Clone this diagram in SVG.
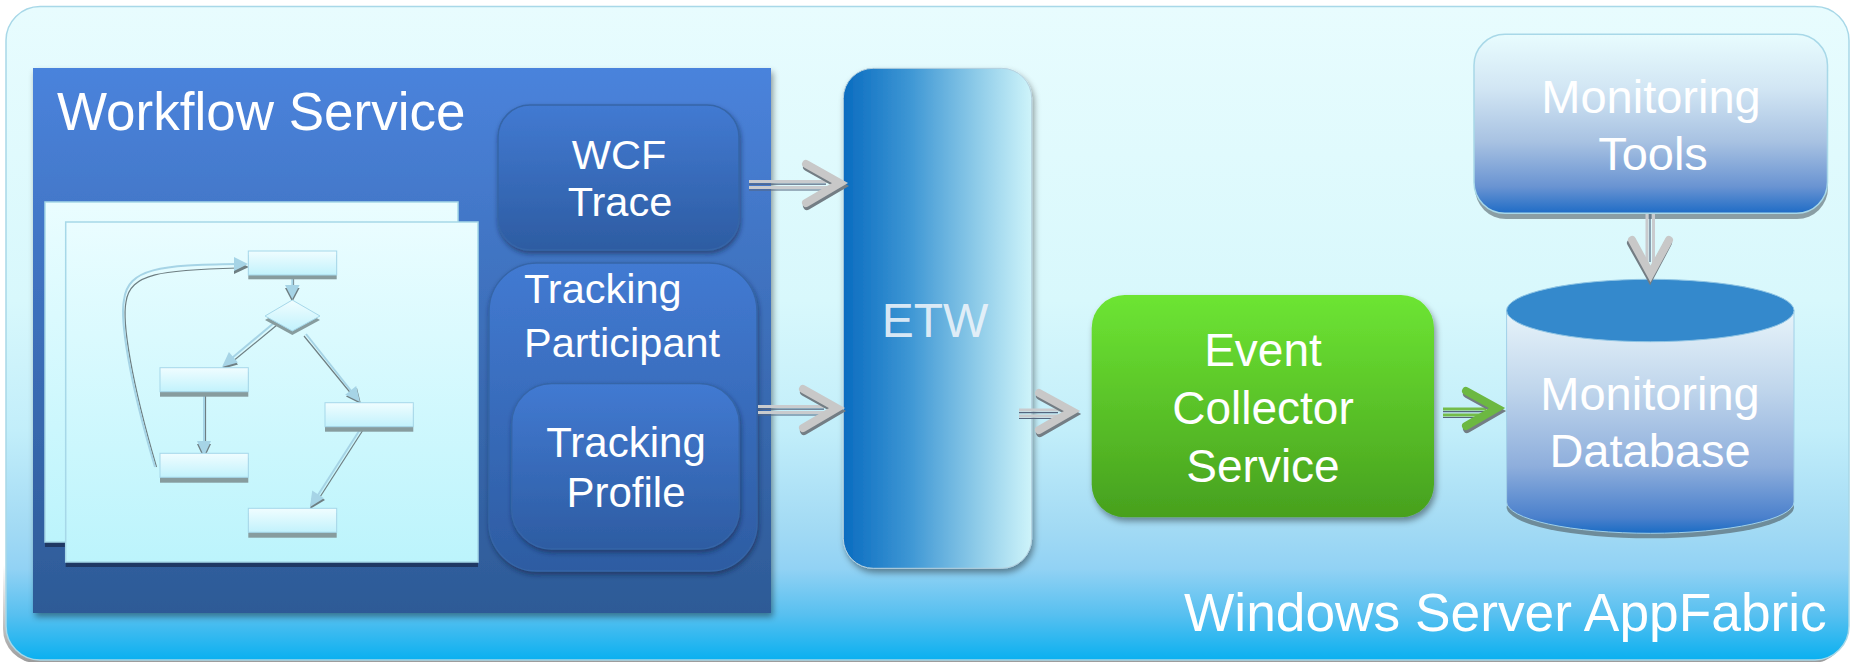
<svg xmlns="http://www.w3.org/2000/svg" width="1854" height="662" viewBox="0 0 1854 662">
<defs>
  <linearGradient id="gBg" x1="0" y1="0" x2="0" y2="1">
    <stop offset="0" stop-color="#e8fcfe"/>
    <stop offset="0.45" stop-color="#d8f8fc"/>
    <stop offset="0.65" stop-color="#c2eefa"/>
    <stop offset="0.8" stop-color="#a2daf4"/>
    <stop offset="0.86" stop-color="#92d2f4"/>
    <stop offset="0.93" stop-color="#58c0f0"/>
    <stop offset="1" stop-color="#0ab0f0"/>
  </linearGradient>
  <linearGradient id="gBgSh" x1="0" y1="0" x2="0" y2="1">
    <stop offset="0.85" stop-color="#909090" stop-opacity="0"/>
    <stop offset="1" stop-color="#909090" stop-opacity="0.9"/>
  </linearGradient>
  <linearGradient id="gWf" x1="0" y1="0" x2="0" y2="1">
    <stop offset="0" stop-color="#4a83dc"/>
    <stop offset="0.3" stop-color="#4276c6"/>
    <stop offset="1" stop-color="#2d5a96"/>
  </linearGradient>
  <linearGradient id="gNode" x1="0" y1="0" x2="0" y2="1">
    <stop offset="0" stop-color="#427ad2"/>
    <stop offset="1" stop-color="#2d5ca2"/>
  </linearGradient>
  <linearGradient id="gPaper" x1="0" y1="0" x2="0" y2="1">
    <stop offset="0" stop-color="#eafdff"/>
    <stop offset="1" stop-color="#bcf4fc"/>
  </linearGradient>
  <linearGradient id="gFbox" x1="0" y1="0" x2="0" y2="1">
    <stop offset="0" stop-color="#f0fdff"/>
    <stop offset="1" stop-color="#c2f2fc"/>
  </linearGradient>
  <linearGradient id="gEtw" x1="0" y1="0" x2="1" y2="0">
    <stop offset="0" stop-color="#0a6cc0"/>
    <stop offset="0.35" stop-color="#3d96d4"/>
    <stop offset="0.7" stop-color="#8ccae8"/>
    <stop offset="1" stop-color="#cef4fa"/>
  </linearGradient>
  <linearGradient id="gGreen" x1="0" y1="0" x2="0" y2="1">
    <stop offset="0" stop-color="#6de533"/>
    <stop offset="1" stop-color="#47a01e"/>
  </linearGradient>
  <linearGradient id="gTools" x1="0" y1="0" x2="0" y2="1">
    <stop offset="0" stop-color="#e8fcfe"/>
    <stop offset="0.3" stop-color="#d2e6f4"/>
    <stop offset="0.6" stop-color="#a8c2e2"/>
    <stop offset="0.85" stop-color="#6a94d2"/>
    <stop offset="1" stop-color="#1f6cc6"/>
  </linearGradient>
  <linearGradient id="gDb" x1="0" y1="0" x2="0" y2="1">
    <stop offset="0" stop-color="#e8f4fa"/>
    <stop offset="0.35" stop-color="#c0d6ec"/>
    <stop offset="0.7" stop-color="#8eaedc"/>
    <stop offset="0.93" stop-color="#4a80cc"/>
    <stop offset="1" stop-color="#1a6cc4"/>
  </linearGradient>
  <filter id="sh" x="-10%" y="-10%" width="125%" height="125%">
    <feDropShadow dx="2" dy="4" stdDeviation="3" flood-color="#000" flood-opacity="0.4"/>
  </filter>
  <filter id="shs" x="-10%" y="-10%" width="125%" height="125%">
    <feDropShadow dx="1" dy="3" stdDeviation="2.5" flood-color="#0a1e40" flood-opacity="0.55"/>
  </filter>
  <style>
    .t { font-family: "Liberation Sans", Arial, sans-serif; fill: #ffffff; }
    .node { fill: url(#gNode); stroke: #3565a8; stroke-width: 1.5; }
    .paper { fill: url(#gPaper); stroke: #a6d8e8; stroke-width: 1.5; }
    .fbox { fill: url(#gFbox); stroke: #a6d8ea; stroke-width: 1; }
    .fsh { fill: #879c9e; }
    .fl { fill: none; stroke: #a6d4e6; stroke-width: 2; }
    .fls { fill: none; stroke: #6e7e82; stroke-width: 1.2; }
    .fh { fill: #a6d4e6; }
    .fhs { fill: #6e7e82; }
    .ll { stroke: #c9cbce; stroke-width: 3; }
    .ld { stroke: #55657e; stroke-width: 1.2; }
    .ch { fill: none; stroke: #c8c8c8; stroke-width: 8; stroke-linejoin: miter; stroke-linecap: round; }
    .chs { fill: none; stroke: #737d84; stroke-width: 8; stroke-linejoin: miter; stroke-linecap: round; }
    .chg { fill: none; stroke: #6cb842; stroke-width: 8; stroke-linejoin: miter; stroke-linecap: round; }
    .llg { stroke: #74bc4a; stroke-width: 3; }
  </style>
</defs>

<!-- background frame -->
<g id="appfabric">
  <rect x="3" y="9.5" width="1843" height="653.5" rx="34" fill="url(#gBgSh)"/>
  <rect x="6" y="6.5" width="1843" height="653.5" rx="34" fill="url(#gBg)" stroke="#a8d8e8" stroke-width="1.5"/>
  <text class="t" x="1184" y="631" font-size="53.3">Windows Server AppFabric</text>
</g>

<!-- Workflow service -->
<g id="workflow-service">
  <rect x="33" y="68" width="738" height="545" fill="url(#gWf)" filter="url(#sh)"/>
  <text class="t" x="57" y="130" font-size="53">Workflow Service</text>
</g>

<g id="workflow-diagram">
  <rect x="45" y="207" width="413" height="340" fill="#1f3864"/>
  <rect x="45" y="202" width="413" height="340" class="paper"/>
  <rect x="65.7" y="227" width="412.3" height="340" fill="#1f3864"/>
  <rect x="65.7" y="222" width="412.3" height="340" class="paper"/>

  <!-- flow connectors (shadow then line) -->
  <g id="flow-connectors">
    <line class="fls" x1="293.5" y1="279" x2="293.5" y2="290"/>
    <line class="fl" x1="292.3" y1="279" x2="292.3" y2="288"/>
    <polygon class="fhs" points="292.3,302 285,288 299.6,288"/>
    <polygon class="fh" points="292.3,299 285,285 299.6,285"/>

    <line class="fls" x1="277" y1="325" x2="232" y2="362"/>
    <line class="fl" x1="275" y1="322" x2="232" y2="358"/>
    <polygon class="fhs" points="222,369 238,364.6 229,354"/>
    <polygon class="fh" points="222,367 237.9,362.6 228.9,352"/>

    <line class="fls" x1="304" y1="336" x2="353" y2="396"/>
    <line class="fl" x1="306" y1="334" x2="352" y2="392"/>
    <polygon class="fhs" points="361,404 357,388 346,396.5"/>
    <polygon class="fh" points="360,402 356.2,385.9 345.2,394.7"/>

    <line class="fls" x1="205.5" y1="392" x2="205.5" y2="446"/>
    <line class="fl" x1="204" y1="392" x2="204" y2="444"/>
    <polygon class="fhs" points="204,459 197,444 211,444"/>
    <polygon class="fh" points="204,456 197,441 211,441"/>

    <line class="fls" x1="363" y1="430" x2="320" y2="497"/>
    <line class="fl" x1="361" y1="428" x2="318" y2="495"/>
    <polygon class="fhs" points="310,509 325,500 313,492"/>
    <polygon class="fh" points="310,507 324,498.2 312.2,490.6"/>

    <path class="fls" d="M156.5,467 C131,380 122,322 126,302 C130,273 162,270 238,268"/>
    <path class="fl" d="M155,467 C129,380 120,320 124,300 C128,268 160,265 238,264"/>
    <polygon class="fhs" points="249,267 234,260 234,274"/>
    <polygon class="fh" points="248,264 234,257 234,271"/>
  </g>

  <!-- flow boxes -->
  <g id="flow-box1"><rect class="fsh" x="248.3" y="255" width="88.4" height="24.3"/><rect class="fbox" x="248.3" y="251" width="88.4" height="24"/></g>
  <g id="flow-decision"><polygon class="fsh" points="292.3,304 320,320 292.3,335 265,320"/><polygon class="fbox" points="292.3,300 320,316 292.3,331 265,316"/></g>
  <g id="flow-box2"><rect class="fsh" x="160" y="372" width="88.3" height="24.7"/><rect class="fbox" x="160" y="367.7" width="88.3" height="24"/></g>
  <g id="flow-box3"><rect class="fsh" x="325" y="407" width="88.3" height="24.7"/><rect class="fbox" x="325" y="402.7" width="88.3" height="24"/></g>
  <g id="flow-box4"><rect class="fsh" x="160" y="458" width="88.3" height="24.7"/><rect class="fbox" x="160" y="453.3" width="88.3" height="24"/></g>
  <g id="flow-box5"><rect class="fsh" x="248.3" y="513" width="88.4" height="24.7"/><rect class="fbox" x="248.3" y="508.3" width="88.4" height="24"/></g>
</g>

<g id="wcf-trace">
  <rect class="node" x="498" y="105" width="241" height="145" rx="32" filter="url(#shs)"/>
  <text class="t" font-size="41.5" text-anchor="middle"><tspan x="619" y="169">WCF</tspan><tspan x="620" y="216">Trace</tspan></text>
</g>

<g id="tracking-participant">
  <rect class="node" x="489" y="263" width="268" height="308" rx="48" filter="url(#shs)"/>
  <text class="t" font-size="41.5"><tspan x="524" y="303">Tracking</tspan><tspan x="524" y="356.5">Participant</tspan></text>
</g>

<g id="tracking-profile">
  <rect class="node" x="511.7" y="383.5" width="227.6" height="165.5" rx="40" filter="url(#shs)"/>
  <text class="t" font-size="42" text-anchor="middle"><tspan x="626" y="456.5">Tracking</tspan><tspan x="626" y="507">Profile</tspan></text>
</g>

<g id="etw">
  <rect x="843.3" y="68.3" width="188.4" height="500" rx="30" fill="url(#gEtw)" stroke="#b6d0de" stroke-width="1" filter="url(#sh)"/>
  <text class="t" x="935" y="336.5" font-size="48" text-anchor="middle" fill-opacity="0.9" style="fill:#eef4fa">ETW</text>
</g>

<g id="event-collector">
  <rect x="1091.7" y="295" width="342.3" height="222.3" rx="33" fill="url(#gGreen)" filter="url(#sh)"/>
  <text class="t" font-size="46" text-anchor="middle"><tspan x="1263" y="366">Event</tspan><tspan x="1263" y="423.5">Collector</tspan><tspan x="1263" y="481.5">Service</tspan></text>
</g>

<g id="monitoring-tools">
  <rect x="1475" y="39.5" width="353" height="179.5" rx="31" fill="#8a9ea4"/>
  <rect x="1474" y="34.3" width="353.5" height="179" rx="31" fill="url(#gTools)" stroke="#a8d8e8" stroke-width="1.5"/>
  <text class="t" font-size="47" text-anchor="middle"><tspan x="1651" y="113.3">Monitoring</tspan><tspan x="1653" y="170">Tools</tspan></text>
</g>

<g id="monitoring-database">
  <ellipse cx="1650.3" cy="507" rx="143.7" ry="31.3" fill="#6e8c9a"/>
  <path d="M1506.6,310.5 L1506.6,502 A143.7,31.3 0 0 0 1794,502 L1794,310.5 Z" fill="url(#gDb)" stroke="#a0d0e8" stroke-width="1"/>
  <ellipse cx="1650.3" cy="310.5" rx="143.7" ry="31.2" fill="#3489cc" stroke="#8ec4e4" stroke-width="1"/>
  <text class="t" font-size="47" text-anchor="middle"><tspan x="1650" y="410">Monitoring</tspan><tspan x="1650" y="466.7">Database</tspan></text>
</g>

<g id="connectors">
  <g id="wcf-to-etw">
    <line class="ll" x1="749" y1="181.5" x2="828" y2="181.5"/>
    <line class="ld" x1="749" y1="184.2" x2="826" y2="184.2"/>
    <line class="ll" x1="749" y1="187.5" x2="828" y2="187.5"/>
    <line class="ld" x1="749" y1="190" x2="826" y2="190"/>
    <polyline class="chs" points="807,167 841,186 807,206"/>
    <polyline class="ch" points="806,164 840,183 806,203"/>
  </g>
  <g id="profile-to-etw">
    <line class="ll" x1="758" y1="406.5" x2="826" y2="406.5"/>
    <line class="ld" x1="758" y1="409.2" x2="824" y2="409.2"/>
    <line class="ll" x1="758" y1="412.5" x2="826" y2="412.5"/>
    <line class="ld" x1="758" y1="415" x2="824" y2="415"/>
    <polyline class="chs" points="804,392 838,411 804,431"/>
    <polyline class="ch" points="803,389 837,408 803,428"/>
  </g>
  <g id="etw-to-collector">
    <line class="ll" x1="1019" y1="410" x2="1060" y2="410"/>
    <line class="ld" x1="1019" y1="412.7" x2="1058" y2="412.7"/>
    <line class="ll" x1="1019" y1="416" x2="1060" y2="416"/>
    <line class="ld" x1="1019" y1="418.5" x2="1058" y2="418.5"/>
    <polyline class="chs" points="1040,396 1073,414 1040,433"/>
    <polyline class="ch" points="1039,393 1072,411 1039,430"/>
  </g>
  <g id="collector-to-db">
    <line class="llg" x1="1443" y1="409" x2="1486" y2="409"/>
    <line class="ld" x1="1443" y1="411.7" x2="1484" y2="411.7"/>
    <line class="llg" x1="1443" y1="415" x2="1486" y2="415"/>
    <line class="ld" x1="1443" y1="417.5" x2="1484" y2="417.5"/>
    <polyline class="chs" points="1467,394 1498,411 1467,429"/>
    <polyline class="chg" points="1466,391 1497,408 1466,426"/>
  </g>
  <g id="tools-to-db">
    <line class="ll" x1="1647" y1="214" x2="1647" y2="264"/>
    <line class="ld" x1="1650" y1="214" x2="1650" y2="262"/>
    <line class="ll" x1="1653.5" y1="214" x2="1653.5" y2="264"/>
    <polyline class="chs" points="1631,243 1650,277 1668,243"/>
    <polyline class="ch" points="1632,240 1650.5,274 1669,240"/>
  </g>
</g>
</svg>
